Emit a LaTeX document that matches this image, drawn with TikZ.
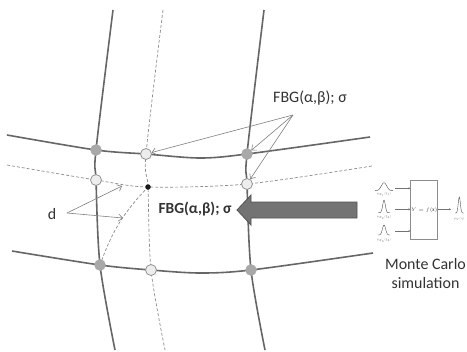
\documentclass[tikz,border=0pt]{standalone}
\usepackage{fontspec}
\setmainfont{Carlito}
\usetikzlibrary{arrows.meta}

\begin{document}
\begin{tikzpicture}[x=1bp,y=-1bp]
  \useasboundingbox[fill=white] (0,0) rectangle (467,351);  % Rahmen wie Vorlage.

  \tikzstyle{grid}=[draw=black!60, line width=1.6bp]
  \tikzstyle{aux}=[draw=black!45, line width=0.7bp, dash pattern=on 3bp off 2bp]
  \tikzstyle{fixed}=[circle, draw=black!34, fill=black!34, minimum size=11bp, inner sep=0pt]
  \tikzstyle{free}=[circle, draw=black!42, fill=black!7, line width=0.8bp, minimum size=11bp, inner sep=0pt]
  \tikzstyle{pointer}=[draw=black!50, line width=0.6bp, -{Straight Barb[length=4bp, width=7bp]}]
  \tikzstyle{txt}=[font=\fontsize{16}{19}\selectfont, text=black!80, inner sep=1pt]
  \tikzstyle{feed}=[draw=black!55, line width=0.4bp, -{Stealth[length=2bp, width=2bp]}]
  \tikzstyle{gauss}=[draw=black!70, line width=0.4bp, smooth]
  \tikzstyle{tiny}=[font=\fontsize{5}{6}\selectfont, text=black!60, inner sep=0pt, scale=0.55, transform shape]

  \coordinate (ul) at (96,150);
  \coordinate (um) at (146,154);
  \coordinate (ur) at (247,154);
  \coordinate (ml) at (96,180);
  \coordinate (mm) at (148,187);
  \coordinate (mr) at (247,184);
  \coordinate (ll) at (100,265);
  \coordinate (lm) at (151,270);
  \coordinate (lr) at (251,270);

  \draw[aux] plot[smooth] coordinates {(163,10) (um) (mm) (lm) (165,350)};
  \draw[aux] plot[smooth] coordinates {(7,165) (ml) (mm) (mr) (372,166)};
  \draw[aux] (ll) to[bend left=12] (mm);

  \draw[grid] plot[smooth] coordinates {(113,10) (ul) (ml) (ll) (115,350)};
  \draw[grid] plot[smooth] coordinates {(264,10) (ur) (mr) (lr) (265,350)};
  \draw[grid] plot[smooth] coordinates {(7,135) (ul) (um) (200,158) (ur) (370,137)};
  \draw[grid] plot[smooth] coordinates {(12,251) (ll) (lm) (200,273) (lr) (373,253)};

  \node[fixed] (ul-c) at (ul) {};
  \node[fixed] (ur-c) at (ur) {};
  \node[fixed] (ll-c) at (ll) {};
  \node[fixed] (lr-c) at (lr) {};
  \node[free]  (um-c) at (um) {};
  \node[free]  (ml-c) at (ml) {};
  \node[free]  (mr-c) at (mr) {};
  \node[free]  (lm-c) at (lm) {};
  \node[circle, fill=black!90, minimum size=5.5bp, inner sep=0pt] (mm-c) at (mm) {};

  \node[txt] (fbgtop) at (310,98) {FBG(α,β); σ};
  \coordinate (src) at (293,115);
  \draw[pointer] (src) -- (um-c);
  \draw[pointer] (src) -- (ur-c);
  \draw[pointer] (src) -- (mr-c);

  \node[txt] (d) at (52,214) {d};
  \coordinate (dsrc) at (67,213);
  \coordinate (d1) at (122,186);
  \coordinate (d2) at (123,218);
  \draw[pointer] (dsrc) -- (d1);
  \draw[pointer] (dsrc) -- (d2);

  \node[txt, font=\fontsize{15.5}{19}\selectfont\bfseries] (fbgmid) at (195,209) {FBG(α,β); σ};
  \draw[draw=black!68, fill=black!55, line width=0.8bp]
    (237,210) -- (251,195) -- (251,202) -- (357,202) -- (357,218) -- (251,218) -- (251,225) -- cycle;

  % Monte-Carlo-Skizze
  \node[draw=black!45, line width=0.5bp, minimum width=27bp, minimum height=58.6bp, inner sep=0pt]
    (model) at (424.2,210) {\fontsize{4}{5}\selectfont\color{black!70}$Y=f(\mathbf{X})$};
  \coordinate (in1) at (395,188.3);
  \coordinate (in2) at (395,209.3);
  \coordinate (in3) at (395,231);
  \draw[feed] (in1) -- (in1 -| model.west);
  \draw[feed] (in2) -- (in2 -| model.west);
  \draw[feed] (in3) -- (in3 -| model.west);
  \coordinate (out) at (451,209.3);
  \draw[feed] (model.east |- out) -- (out);

  \draw[gauss] plot[domain=375:393, samples=30] (\x, {190.7-8*exp(-((\x-384)^2)/14)});
  \draw[gauss] plot[domain=378:390, samples=30] (\x, {212.7-12.5*exp(-((\x-384)^2)/3.5)});
  \draw[gauss] plot[domain=378:390, samples=30] (\x, {235-10*exp(-((\x-384)^2)/5)});
  \draw[gauss] plot[domain=455:464, samples=30] (\x, {213-16*exp(-((\x-459.3)^2)/2.2)});
  \node[tiny] (lab1) at (384,194.5) {$p_{X_1}(\xi_1)$};
  \node[tiny] (lab2) at (384,217.5) {$p_{X_2}(\xi_2)$};
  \node[tiny] (lab3) at (384,240.5) {$p_{X_3}(\xi_3)$};
  \node[tiny] (laby) at (459.3,218.5) {$p_Y(\eta)$};

  \node[txt, align=center] (mc) at (425.5,273.5) {Monte Carlo\\simulation};
\end{tikzpicture}
\end{document}
